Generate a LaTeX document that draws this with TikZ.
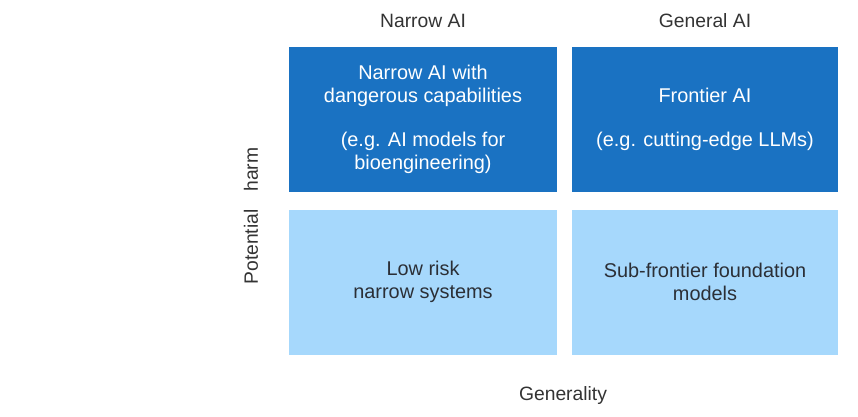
\documentclass[tikz,border=0pt]{standalone}
\usepackage{fontspec}
\setmainfont{Liberation Sans}
\definecolor{darkbox}{HTML}{1A72C2}
\definecolor{lightbox}{HTML}{A6D8FC}
\definecolor{labelgray}{HTML}{333333}
\definecolor{boxtext}{HTML}{2B2F36}
\begin{document}
\begin{tikzpicture}[x=1pt,y=-1pt,
  cell/.style={minimum width=268pt,minimum height=145pt,inner sep=0pt,align=center,
    font=\fontsize{19.9}{22.5}\selectfont},
  hicell/.style={cell,fill=darkbox,text=white},
  locell/.style={cell,fill=lightbox,text=boxtext},
  axislabel/.style={text=labelgray,font=\fontsize{19.3}{22}\selectfont,inner sep=0pt}]
\useasboundingbox (0,0) rectangle (858,416);
\node[hicell] (tl) at (423,119.5) {Narrow AI with\\dangerous capabilities\\[22pt](e.g. AI models for\\bioengineering)};
\node[hicell,minimum width=266pt] (tr) at (705,119.5) {Frontier AI\\[22pt](e.g. cutting-edge LLMs)};
\node[locell] (bl) at (423,282) {Low risk\\narrow systems};
\node[locell,minimum width=266pt] (br) at (705,282) {Sub-frontier foundation\\models};
\node[axislabel] (hnarrow) at (423,21) {Narrow AI};
\node[axislabel] (hgeneral) at (705,21) {General AI};
\node[axislabel] (xlab) at (563,395) {Generality};
\node[axislabel,rotate=90] (ylab) at (251,216) {Potential\hspace{18pt}harm};
\end{tikzpicture}
\end{document}
